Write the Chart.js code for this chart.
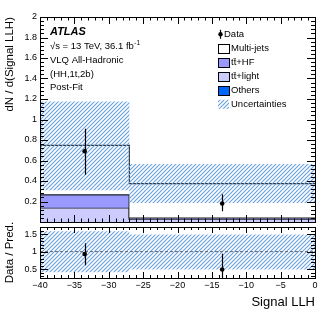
<!DOCTYPE html>
<html><head><meta charset="utf-8">
<script src="https://cdn.jsdelivr.net/npm/chart.js@4.4.1/dist/chart.umd.min.js"></script>
<style>
html,body{margin:0;padding:0;background:#fff;width:332px;height:322px;overflow:hidden}
#c1{position:absolute;left:0;top:0}
#c2{position:absolute;left:0;top:222px}
</style></head><body>
<canvas id="c1" width="332" height="226"></canvas>
<canvas id="c2" width="332" height="88"></canvas>
<script>
// ---------- data ----------
const binEdges = [-40, -27, 0];
const ttLight = [0.14, 0.03];
const ttHF = [0.125, 0.012];
const others = [0.005, 0.003];
const multiJets = [0.477, 0.33];
const uncLow = [0.31, 0.186];
const uncHigh = [1.176, 0.567];
const dataX = [-33.5, -13.5];
const dataY = [0.69, 0.18];
const dataErrLow = [0.46, 0.106];
const dataErrHigh = [0.91, 0.27];
const ratioY = [0.93, 0.49];
const ratioErrLow = [0.61, 0.05];
const ratioErrHigh = [1.24, 0.94];
const ratioUncLow = [0.41, 0.49];
const ratioUncHigh = [1.58, 1.49];
const xTicks = [-40, -35, -30, -25, -20, -15, -10, -5, 0];
const mainYTicks = [0.2, 0.4, 0.6, 0.8, 1, 1.2, 1.4, 1.6, 1.8, 2];
const ratioYTicks = [0.5, 1, 1.5];
const legendLabels = ['Data', 'Multi-jets', 't\u0074\u0304+HF', 't\u0074\u0304+light', 'Others', 'Uncertainties'];

const FONT = "'Liberation Sans', Arial, Helvetica, sans-serif";
const C_LIGHT = '#ccccff', C_HF = '#9999ff', C_OTH = '#0066ff';

// hatch pattern
function makeHatch() {
  const c = document.createElement('canvas');
  c.width = 4; c.height = 4;
  const g = c.getContext('2d');
  g.strokeStyle = 'rgb(105,160,225)';
  g.lineWidth = 1.1;
  g.beginPath();
  g.moveTo(-1, 5); g.lineTo(5, -1);
  g.moveTo(-1, 1); g.lineTo(1, -1);
  g.moveTo(3, 5); g.lineTo(5, 3);
  g.stroke();
  return g.createPattern(c, 'repeat');
}
const hatch = makeHatch();

function cum(...arrs) { return arrs[0].map((_, i) => arrs.reduce((s, a) => s + a[i], 0)); }
function stepPts(vals) { return binEdges.map((e, i) => ({x: e, y: vals[Math.min(i, vals.length - 1)]})); }

const s1 = cum(ttLight), s2 = cum(ttLight, ttHF), s3 = cum(ttLight, ttHF, others), s4 = cum(ttLight, ttHF, others, multiJets);

function withOrder(list) { return list.map((d, i) => Object.assign({order: list.length - i}, d)); }

function histDs(vals, bg, fill, bc, bw) {
  return {type: 'line', data: stepPts(vals), stepped: true, backgroundColor: bg, fill: fill,
    borderColor: bc, borderWidth: bw, pointRadius: 0, tension: 0};
}

function drawTicksAll(chart, yMajor, yMinStep, yMin, yMax, yLenMaj, yLenMin, xLenMaj, xLenMin) {
  const {ctx, chartArea: a, scales} = chart;
  const xs = scales.x, ys = scales.y;
  ctx.save();
  ctx.strokeStyle = '#000'; ctx.lineWidth = 1;
  ctx.beginPath();
  for (let v = binEdges[0]; v <= binEdges[binEdges.length - 1] + 1e-9; v += 1) {
    const maj = xTicks.some(t => Math.abs(t - v) < 1e-6);
    const L = maj ? xLenMaj : xLenMin;
    const px = Math.round(xs.getPixelForValue(v)) + 0.5;
    ctx.moveTo(px, a.bottom); ctx.lineTo(px, a.bottom - L);
    ctx.moveTo(px, a.top); ctx.lineTo(px, a.top + L);
  }
  const start = Math.ceil(yMin / yMinStep - 1e-9);
  for (let k = start; k * yMinStep <= yMax + 1e-9; k++) {
    const v = k * yMinStep;
    const maj = yMajor.some(t => Math.abs(t - v) < 1e-6) || Math.abs(v) < 1e-9;
    const L = maj ? yLenMaj : yLenMin;
    const py = Math.round(ys.getPixelForValue(v)) + 0.5;
    ctx.moveTo(a.left, py); ctx.lineTo(a.left + L, py);
    ctx.moveTo(a.right, py); ctx.lineTo(a.right - L, py);
  }
  ctx.stroke();
  ctx.strokeRect(Math.round(a.left) + 0.5, Math.round(a.top) + 0.5, Math.round(a.right - a.left), Math.round(a.bottom - a.top));
  ctx.restore();
}

function drawErr(chart, xv, lo, hi) {
  const {ctx, chartArea: a, scales} = chart;
  ctx.save();
  ctx.beginPath(); ctx.rect(a.left, a.top, a.right - a.left, a.bottom - a.top); ctx.clip();
  ctx.strokeStyle = '#000'; ctx.lineWidth = 1.2;
  ctx.beginPath();
  xv.forEach((x, i) => {
    const px = Math.round(scales.x.getPixelForValue(x)) + 0.5;
    ctx.moveTo(px, scales.y.getPixelForValue(lo[i]));
    ctx.lineTo(px, scales.y.getPixelForValue(hi[i]));
  });
  ctx.stroke();
  ctx.restore();
}

const mainPlugin = {
  id: 'mainDeco',
  afterDatasetsDraw(chart) {
    drawErr(chart, dataX, dataErrLow, dataErrHigh);
  },
  afterDraw(chart) {
    drawTicksAll(chart, mainYTicks, 0.04, 0, 2, 8, 4, 7, 3.5);
    const ctx = chart.ctx;
    ctx.save();
    ctx.fillStyle = '#000';
    ctx.textBaseline = 'middle';
    ctx.textAlign = 'left';
    // annotation
    ctx.font = 'italic bold 11px ' + FONT;
    ctx.fillText('ATLAS', 50, 32);
    ctx.font = '9.5px ' + FONT;
    const l1 = '\u221As = 13 TeV, 36.1 fb';
    ctx.fillText(l1, 50, 46.5);
    const w1 = ctx.measureText(l1).width;
    ctx.font = '6.5px ' + FONT;
    ctx.fillText('-1', 50 + w1 + 0.5, 43);
    ctx.font = '9.5px ' + FONT;
    ctx.fillText('VLQ All-Hadronic', 50, 60.5);
    ctx.fillText('(HH,1t,2b)', 50, 74);
    ctx.fillText('Post-Fit', 50, 87.5);
    // legend
    const ly = [34.3, 48.5, 62.5, 76.5, 90.5, 104.3];
    const bx = 218, bw = 11, bh = 9, tx = 231;
    ctx.font = '9.5px ' + FONT;
    ctx.beginPath(); ctx.arc(bx + 2.5, ly[0], 2.2, 0, Math.PI * 2); ctx.fill();
    ctx.lineWidth = 1.2; ctx.strokeStyle = '#000';
    ctx.beginPath(); ctx.moveTo(bx + 2.5, ly[0] - 4.5); ctx.lineTo(bx + 2.5, ly[0] + 4.5); ctx.stroke();
    ctx.fillText(legendLabels[0], 224, ly[0]);
    const fills = ['#ffffff', C_HF, C_LIGHT, C_OTH];
    for (let i = 1; i <= 4; i++) {
      ctx.fillStyle = fills[i - 1];
      ctx.fillRect(bx, ly[i] - bh / 2, bw, bh);
      ctx.strokeStyle = '#000'; ctx.lineWidth = 1;
      ctx.strokeRect(bx + 0.5, Math.round(ly[i] - bh / 2) + 0.5, bw, bh);
      ctx.fillStyle = '#000';
      ctx.fillText(legendLabels[i], tx, ly[i]);
    }
    ctx.fillStyle = hatch;
    ctx.fillRect(bx, ly[5] - bh / 2, bw, bh);
    ctx.fillStyle = '#000';
    ctx.fillText(legendLabels[5], tx, ly[5]);
    ctx.restore();
  }
};

const yAxisCommon = {
  grid: {display: false, drawTicks: false}, border: {display: false},
  afterFit: s => { s.width = 40; s.paddingTop = 0; s.paddingBottom = 0; }
};

new Chart(document.getElementById('c1'), {
  type: 'line',
  data: {datasets: withOrder([
    histDs(s1, C_LIGHT, 'origin', '#222', 1.5),
    histDs(s2, C_HF, '-1', '#222', 1.5),
    histDs(s3, C_OTH, '-1', '#111', 1),
    histDs(s4, '#ffffff', '-1', '#333', 1.2),
    histDs(uncLow, 'rgba(0,0,0,0)', false, 'rgba(0,0,0,0)', 0),
    histDs(uncHigh, hatch, '-1', 'rgba(0,0,0,0)', 0),
    {type: 'line', data: dataX.map((x, i) => ({x: x, y: dataY[i]})), showLine: false,
      pointRadius: 2.3, pointBackgroundColor: '#000', pointBorderColor: '#000', pointBorderWidth: 0}
  ])},
  options: {
    responsive: false, animation: false, events: [],
    layout: {padding: {top: 17, right: 17, bottom: 1, left: 0}},
    plugins: {legend: {display: false}, tooltip: {enabled: false}},
    scales: {
      x: {type: 'linear', min: binEdges[0], max: binEdges[binEdges.length - 1], display: false},
      y: Object.assign({}, yAxisCommon, {
        type: 'linear', min: 0, max: 2,
        afterBuildTicks: s => { s.ticks = mainYTicks.map(v => ({value: v})); },
        ticks: {font: {family: FONT, size: 9}, color: '#000', padding: 3,
          callback: v => String(+v.toFixed(1))},
        title: {display: true, text: 'dN / d(Signal LLH)', align: 'end',
          font: {family: FONT, size: 11.5}, color: '#000', padding: {top: 3, bottom: 0}}
      })
    }
  },
  plugins: [mainPlugin]
});

const ratioPlugin = {
  id: 'ratioDeco',
  afterDatasetsDraw(chart) {
    drawErr(chart, dataX, ratioErrLow, ratioErrHigh);
  },
  afterDraw(chart) {
    drawTicksAll(chart, ratioYTicks, 0.1, 0.25, 1.7, 8, 4, 6, 3);
  }
};

new Chart(document.getElementById('c2'), {
  type: 'line',
  data: {datasets: withOrder([
    histDs(ratioUncLow, 'rgba(0,0,0,0)', false, 'rgba(0,0,0,0)', 0),
    histDs(ratioUncHigh, hatch, '-1', 'rgba(0,0,0,0)', 0),
    {type: 'line', data: [{x: binEdges[0], y: 1}, {x: binEdges[binEdges.length - 1], y: 1}],
      borderColor: '#666', borderWidth: 1, borderDash: [3, 2], pointRadius: 0, fill: false},
    {type: 'line', data: dataX.map((x, i) => ({x: x, y: ratioY[i]})), showLine: false,
      pointRadius: 2.3, pointBackgroundColor: '#000', pointBorderColor: '#000', pointBorderWidth: 0}
  ])},
  options: {
    responsive: false, animation: false, events: [],
    layout: {padding: {top: 5, right: 17, bottom: 0, left: 0}},
    plugins: {legend: {display: false}, tooltip: {enabled: false}},
    scales: {
      x: {type: 'linear', min: binEdges[0], max: binEdges[binEdges.length - 1],
        grid: {display: false, drawTicks: false}, border: {display: false},
        afterBuildTicks: s => { s.ticks = xTicks.map(v => ({value: v})); },
        afterFit: s => { s.height = 32; },
        ticks: {font: {family: FONT, size: 9}, color: '#000', padding: 2, maxRotation: 0, autoSkip: false,
          callback: v => String(v).replace('-', '\u2212')},
        title: {display: true, text: 'Signal LLH', align: 'end',
          font: {family: FONT, size: 13}, color: '#000', padding: {top: 3, bottom: 0}}
      },
      y: Object.assign({}, yAxisCommon, {
        type: 'linear', min: 0.25, max: 1.7,
        afterBuildTicks: s => { s.ticks = ratioYTicks.map(v => ({value: v})); },
        ticks: {font: {family: FONT, size: 9}, color: '#000', padding: 3,
          callback: v => String(v)},
        title: {display: true, text: 'Data / Pred.', align: 'center',
          font: {family: FONT, size: 11.5}, color: '#000', padding: {top: 3, bottom: 0}}
      })
    }
  },
  plugins: [ratioPlugin]
});
</script>
</body></html>
